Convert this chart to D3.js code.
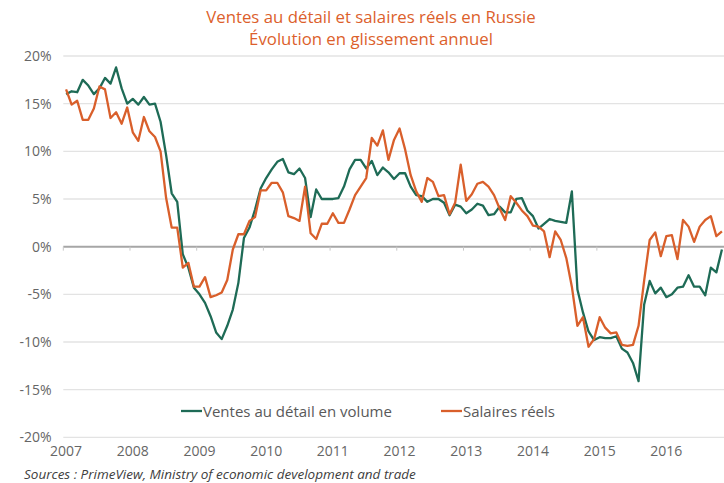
<!DOCTYPE html>
<html><head><meta charset="utf-8">
<script src="https://cdn.jsdelivr.net/npm/d3@7"></script>
<style>
html,body{margin:0;padding:0;background:#fff;}
svg{display:block;font-family:"Open Sans","Noto Sans",sans-serif;}
</style></head>
<body>
<svg id="chart" width="724" height="483"></svg>
<script>
// ---- data ----
const yearLabels = ["2007","2008","2009","2010","2011","2012","2013","2014","2015","2016"];
const firstMonth = "2007-01";
const monthCount = 119; // Jan 2007 .. Nov 2016
const yTicks = [-20,-15,-10,-5,0,5,10,15,20];

const retailVolume = [
 16.0,16.3,16.2,17.5,16.9,16.0,16.6,17.7,17.1,18.8,16.6,15.0,
 15.5,14.9,15.7,14.9,15.0,13.1,9.6,5.6,4.7,-0.8,-2.2,-4.3,
 -5.0,-5.9,-7.3,-9.0,-9.7,-8.3,-6.6,-3.8,0.9,2.0,3.9,6.1,
 7.2,8.1,8.9,9.2,7.8,7.6,8.2,7.2,3.1,6.0,5.0,5.0,
 5.0,5.1,6.3,8.1,9.1,9.1,8.2,9.0,7.5,8.3,7.8,7.1,
 7.7,7.7,6.3,5.4,5.3,4.7,5.0,5.0,4.6,3.3,4.4,4.2,
 3.5,3.9,4.5,4.3,3.3,3.4,4.2,3.6,3.6,5.0,5.1,3.8,
 3.2,1.9,2.4,2.9,2.7,2.6,2.5,5.8,-4.5,-6.9,-8.9,-9.8,
 -9.5,-9.6,-9.6,-9.4,-10.7,-11.1,-12.2,-14.1,-6.1,-3.6,-4.9,-4.3,
 -5.3,-5.0,-4.3,-4.2,-3.0,-4.2,-4.2,-5.1,-2.2,-2.7,-0.3
];
const realWages = [
 16.5,14.9,15.3,13.3,13.3,14.5,16.8,16.5,13.5,14.1,12.9,14.6,
 12.0,11.1,13.6,12.1,11.5,10.0,5.1,2.0,2.0,-2.2,-1.7,-4.2,
 -4.2,-3.2,-5.3,-5.1,-4.8,-3.5,-0.3,1.3,1.3,2.7,3.1,5.9,
 5.9,6.7,6.7,5.7,3.2,3.0,2.7,6.3,1.4,0.8,2.4,2.4,
 3.5,2.5,2.5,3.9,5.4,6.3,7.2,11.4,10.6,12.2,9.1,11.2,
 12.4,10.2,7.5,5.8,4.7,7.2,6.8,5.3,5.4,3.4,4.6,8.6,
 4.8,5.5,6.6,6.8,6.3,5.4,4.0,2.8,5.3,4.6,3.8,3.2,
 2.2,2.1,1.6,-1.1,1.6,0.7,-1.2,-4.2,-8.3,-7.4,-10.5,-9.7,
 -7.4,-8.5,-9.1,-9.0,-10.3,-10.4,-10.3,-8.3,-3.6,0.7,1.5,-1.0,
 1.1,1.2,-1.3,2.8,2.1,0.5,2.1,2.8,3.2,1.1,1.6
];
const seriesNames = ["Ventes au détail en volume","Salaires réels"];
const seriesColors = ["#1e6b56","#d95f2b"];
const titleLines = ["Ventes au détail et salaires réels en Russie","Évolution en glissement annuel"];
const sourceText = "Sources : PrimeView, Ministry of economic development and trade";

// ---- build ----
const parse = d3.timeParse("%Y-%m");
const start = parse(firstMonth);
const months = d3.range(monthCount).map(i => d3.timeMonth.offset(start, i));
const keys = months.map(d => d3.timeFormat("%Y-%m")(d));

const svg = d3.select("#chart");
const x = d3.scaleBand().domain(keys).range([63.3, 724.7]).padding(0);
const y = d3.scaleLinear().domain([-20,20]).range([437.3, 56]);
const cx = k => x(k) + x.bandwidth()/2;

// title
svg.append("g").selectAll("text").data(titleLines).join("text")
  .attr("x", 371).attr("y", (d,i) => 23 + i*22)
  .attr("text-anchor","middle").attr("fill","#dc5f2c")
  .attr("font-size", 16.8).text(d => d);

// gridlines
svg.append("g").selectAll("line").data(yTicks.filter(t => t !== 0)).join("line")
  .attr("x1", 63.3).attr("x2", 724).attr("y1", d => y(d)).attr("y2", d => y(d))
  .attr("stroke","#e3e3e3").attr("stroke-width",1.3);

// y labels
const yAxis = d3.axisLeft(y).tickValues(yTicks).tickSize(0).tickPadding(0).tickFormat(d => d + "%");
const gy = svg.append("g").attr("transform","translate(51.5,0)").call(yAxis);
gy.select(".domain").remove();
gy.selectAll("text").attr("fill","#666").attr("font-size",14).attr("font-family","Open Sans, sans-serif");

// zero line + ticks
const janKeys = keys.filter(k => k.endsWith("-01"));
svg.append("line").attr("x1",63.3).attr("x2",724).attr("y1",y(0)).attr("y2",y(0))
  .attr("stroke","#a6a6a6").attr("stroke-width",2);
svg.append("g").selectAll("line").data(janKeys).join("line")
  .attr("x1", d => x(d)).attr("x2", d => x(d))
  .attr("y1", y(0)).attr("y2", y(0)+4)
  .attr("stroke","#c8c8c8").attr("stroke-width",1);

// x labels
const xAxis = d3.axisBottom(x).tickValues(janKeys).tickSize(0).tickPadding(0)
  .tickFormat((d,i) => yearLabels[i]);
const gx = svg.append("g").attr("transform","translate(0,446)").call(xAxis);
gx.select(".domain").remove();
gx.selectAll("text").attr("fill","#666").attr("font-size",14).attr("font-family","Open Sans, sans-serif");

// lines
const line = d3.line().x((d,i) => cx(keys[i])).y(d => y(d));
[retailVolume, realWages].forEach((s, i) => {
  svg.append("path").datum(s).attr("d", line)
    .attr("fill","none").attr("stroke", seriesColors[i])
    .attr("stroke-width", 2.3).attr("stroke-linejoin","round");
});

// legend
const legendX = [181, 441];
const lg = svg.append("g").selectAll("g").data(seriesNames).join("g")
  .attr("transform", (d,i) => `translate(${legendX[i]},411)`);
lg.append("line").attr("x1",0).attr("x2",21).attr("y1",0).attr("y2",0)
  .attr("stroke", (d,i) => seriesColors[i]).attr("stroke-width",2.3);
lg.append("text").attr("x",22).attr("y",5.5).attr("fill","#595959")
  .attr("font-size",15).text(d => d);

// source
svg.append("text").attr("x",24).attr("y",478.5).attr("fill","#404040")
  .attr("font-size",13.5).attr("font-style","italic").text(sourceText);
</script>
</body></html>
